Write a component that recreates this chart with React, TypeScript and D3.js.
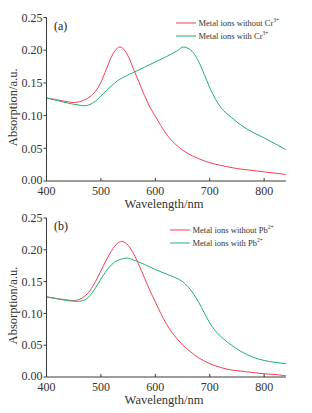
import React from "react";
import * as d3 from "d3";

// Panel (a)
const aRedX = [400, 420, 440, 450, 460, 470, 480, 490, 500, 510, 520, 530, 535, 540, 550, 560, 570, 580, 590, 600, 610, 620, 640, 660, 680, 700, 720, 750, 780, 800, 820, 840];
const aRedY = [0.127, 0.124, 0.121, 0.120, 0.121, 0.124, 0.129, 0.137, 0.151, 0.171, 0.191, 0.203, 0.205, 0.203, 0.191, 0.171, 0.151, 0.131, 0.113, 0.099, 0.085, 0.072, 0.054, 0.042, 0.034, 0.028, 0.024, 0.019, 0.016, 0.014, 0.012, 0.010];
const aGreenX = [400, 420, 440, 460, 470, 480, 490, 500, 510, 520, 530, 540, 560, 580, 600, 620, 640, 652, 660, 670, 680, 690, 700, 710, 720, 740, 760, 780, 800, 820, 840];
const aGreenY = [0.127, 0.123, 0.119, 0.116, 0.115, 0.117, 0.122, 0.130, 0.138, 0.146, 0.153, 0.158, 0.166, 0.174, 0.182, 0.190, 0.199, 0.205, 0.203, 0.196, 0.182, 0.163, 0.143, 0.126, 0.113, 0.097, 0.084, 0.074, 0.066, 0.057, 0.048];

// Panel (b)
const bRedX = [400, 420, 440, 450, 460, 470, 480, 490, 500, 510, 520, 530, 538, 545, 550, 560, 570, 580, 590, 600, 610, 620, 640, 660, 680, 700, 720, 740, 760, 780, 800, 820, 840];
const bRedY = [0.126, 0.123, 0.121, 0.120, 0.122, 0.127, 0.136, 0.150, 0.167, 0.184, 0.199, 0.210, 0.213, 0.211, 0.207, 0.194, 0.176, 0.156, 0.136, 0.118, 0.100, 0.084, 0.060, 0.043, 0.030, 0.021, 0.015, 0.011, 0.009, 0.007, 0.005, 0.004, 0.002];
const bGreenX = [400, 420, 440, 460, 470, 480, 490, 500, 510, 520, 530, 540, 548, 560, 580, 600, 620, 640, 650, 660, 670, 680, 690, 700, 710, 720, 740, 760, 780, 800, 820, 840];
const bGreenY = [0.126, 0.123, 0.120, 0.119, 0.121, 0.128, 0.140, 0.154, 0.167, 0.177, 0.183, 0.186, 0.187, 0.184, 0.177, 0.169, 0.162, 0.155, 0.150, 0.142, 0.131, 0.117, 0.101, 0.085, 0.073, 0.064, 0.050, 0.039, 0.031, 0.026, 0.023, 0.021];

const xTicks = [400, 500, 600, 700, 800];
const yTicks = [0, 0.05, 0.1, 0.15, 0.2, 0.25];
const legendA = ["Metal ions without Cr", "Metal ions with Cr"];
const legendB = ["Metal ions without Pb", "Metal ions with Pb"];
const supA = "3+";
const supB = "2+";

const RED = "#f2404f";
const GREEN = "#1fb06c";
const FONT = "Liberation Serif, Times New Roman, serif";
const AXIS = "#3a3a3a";

type PanelProps = {
  top: number;
  bottom: number;
  label: string;
  redX: number[];
  redY: number[];
  greenX: number[];
  greenY: number[];
  legend: string[];
  sup: string;
  legendX: number;
  legendY: number;
};

function Panel(p: PanelProps) {
  const x = d3.scaleLinear().domain([400, 840]).range([46.5, 285.9]);
  const y = d3.scaleLinear().domain([0, 0.25]).range([p.bottom, p.top]);
  const line = d3
    .line<[number, number]>()
    .x((d) => x(d[0]))
    .y((d) => y(d[1]))
    .curve(d3.curveMonotoneX);
  const red = line(p.redX.map((v, i) => [v, p.redY[i]] as [number, number])) || "";
  const green = line(p.greenX.map((v, i) => [v, p.greenY[i]] as [number, number])) || "";
  const x0 = x(400);
  const x1 = x(840);
  const midY = (p.top + p.bottom) / 2;
  return (
    <g style={{ fontFamily: FONT }}>
      <path d={red} fill="none" stroke={RED} strokeWidth={1} />
      <path d={green} fill="none" stroke={GREEN} strokeWidth={1} />
      <line x1={x0} x2={x0} y1={p.top} y2={p.bottom} stroke={AXIS} strokeWidth={1} />
      <line x1={x0} x2={x1} y1={p.bottom} y2={p.bottom} stroke={AXIS} strokeWidth={1} />
      {yTicks.map((t) => (
        <g key={"y" + t}>
          <line x1={x0 - 3} x2={x0} y1={y(t)} y2={y(t)} stroke={AXIS} />
          <text
            x={x0 - 4}
            y={y(t) - (t === 0 ? 1.5 : 0)}
            dy="0.35em"
            textAnchor="end"
            fontSize={12}
            fill="#333"
          >
            {d3.format(".2f")(t)}
          </text>
        </g>
      ))}
      {xTicks.map((t) => (
        <g key={"x" + t}>
          <line x1={x(t)} x2={x(t)} y1={p.bottom} y2={p.bottom - 3} stroke={AXIS} />
          <text x={x(t)} y={p.bottom + 14} textAnchor="middle" fontSize={12} fill="#333">
            {t}
          </text>
        </g>
      ))}
      <text x={164} y={p.bottom + 27} textAnchor="middle" fontSize={12.5} fill="#333">
        Wavelength/nm
      </text>
      <text
        transform={`translate(17,${midY + 8}) rotate(-90)`}
        textAnchor="middle"
        fontSize={12.5}
        fill="#333"
      >
        Absorption/a.u.
      </text>
      <text x={54} y={p.top + 12} fontSize={12} fill="#222">
        {p.label}
      </text>
      {p.legend.map((s, i) => (
        <g key={s}>
          <line
            x1={p.legendX}
            x2={p.legendX + 20}
            y1={p.legendY + i * 13}
            y2={p.legendY + i * 13}
            stroke={i === 0 ? RED : GREEN}
            strokeWidth={1}
          />
          <text x={p.legendX + 22.5} y={p.legendY + i * 13 + 3} fontSize={8.5} fill="#333">
            {s}
            <tspan fontSize={5.5} dy={-4}>
              {p.sup}
            </tspan>
          </text>
        </g>
      ))}
    </g>
  );
}

export default function App() {
  return (
    <svg
      width={312}
      height={413}
      style={{ position: "absolute", left: 0, top: 0, background: "#fff" }}
    >
      <Panel
        top={17.5}
        bottom={181}
        label="(a)"
        redX={aRedX}
        redY={aRedY}
        greenX={aGreenX}
        greenY={aGreenY}
        legend={legendA}
        sup={supA}
        legendX={176}
        legendY={23}
      />
      <Panel
        top={218}
        bottom={377}
        label="(b)"
        redX={bRedX}
        redY={bRedY}
        greenX={bGreenX}
        greenY={bGreenY}
        legend={legendB}
        sup={supB}
        legendX={170}
        legendY={230}
      />
    </svg>
  );
}
